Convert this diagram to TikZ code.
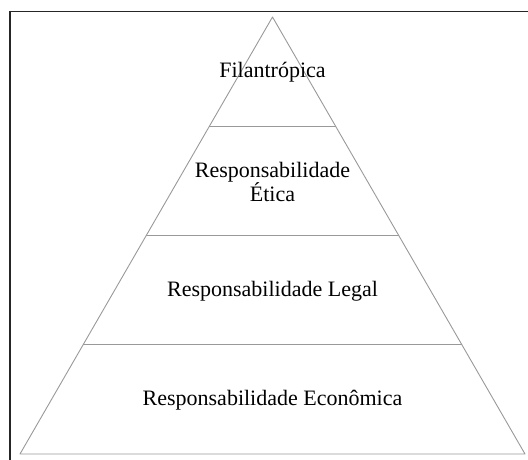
\documentclass[tikz,border=0pt]{standalone}
\usepackage{fontspec}
\setmainfont{Liberation Serif}
\usetikzlibrary{calc}
\tikzstyle{camada} = [align=center, font=\fontsize{22}{23}\selectfont, inner sep=0pt]
\tikzstyle{aresta} = [draw=black!40, line width=0.9pt]

\begin{document}
\begin{tikzpicture}[x=1pt, y=1pt]
        \clip (0,0) rectangle (528,459);
        \draw[line width=1.3pt, black!85] (10,-10) -- (10,447.5) -- (540,447.5);

        \coordinate (topo)  at (272.5,442);
        \coordinate (baseE) at (20,5);
        \coordinate (baseD) at (525,5);

        % divisoes entre as camadas
        \foreach \k in {1,2,3} {
            \draw[aresta] ($(baseE)!\k/4!(topo)$) -- ($(baseD)!\k/4!(topo)$);
        }
        \draw[aresta, line join=round] (baseE) -- (topo) -- (baseD) -- cycle;

        \node [camada] (filantropica) at (272.5,387) {Filantrópica};
        \node [camada] (etica)        at (272.5,277) {Responsabilidade\\Ética};
        \node [camada] (legal)        at (272.5,168) {Responsabilidade Legal};
        \node [camada] (economica)    at (272.5,59)  {Responsabilidade Econômica};
    \end{tikzpicture}
\end{document}
